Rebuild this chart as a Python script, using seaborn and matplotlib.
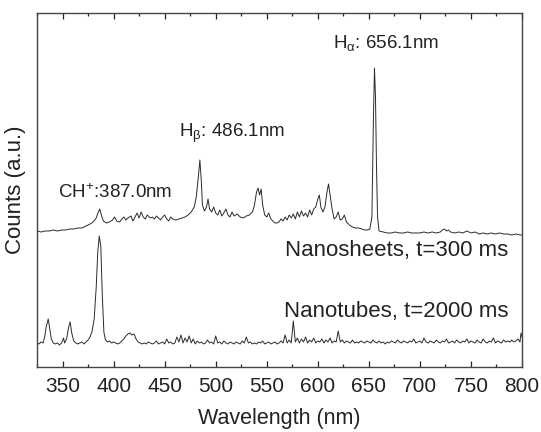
import matplotlib
matplotlib.use("Agg")
import matplotlib.pyplot as plt
import seaborn as sns
import pandas as pd
from matplotlib.ticker import MultipleLocator

# Nanosheets spectrum (t = 300 ms)
sheets_wl = [325, 329, 333, 337, 341, 345, 349, 353, 357, 361, 365, 369, 373, 377, 380, 383, 385, 386.5, 388, 390,
             393, 396, 399, 401, 403, 406, 408, 410, 412, 414, 417, 419, 421, 423, 425, 427, 429, 431, 433, 436,
             438, 440, 442, 444, 446, 448, 450, 452, 454, 456, 458, 461, 464, 467, 470, 473, 476, 479, 481, 483,
             484.5, 486, 487, 489, 491, 492.5, 494, 496, 498, 500, 502, 504, 506, 508, 510, 512, 514, 516, 518, 521,
             524, 527, 530, 533, 536, 538, 540, 541.5, 543, 544.5, 546, 548, 550, 552, 554, 556, 558, 560, 562, 564,
             566, 568, 570, 572, 574, 576, 578, 580, 582, 584, 586, 588, 590, 592, 594, 596, 598, 600, 601.5, 603,
             605, 607, 609, 610.5, 612, 614, 616, 618, 620, 622, 624, 626, 628, 630, 632, 634, 637, 640, 643, 646,
             649, 651, 653, 654.5, 655.5, 656.5, 657.5, 658.5, 660, 664, 668, 672, 676, 680, 684, 688, 692, 696,
             700, 704, 708, 712, 716, 720, 722, 724, 726, 728, 730, 734, 738, 742, 746, 750, 754, 758, 762, 766,
             770, 774, 778, 782, 786, 790, 794, 798, 800]
sheets_counts = [136, 135, 136, 136, 137, 136, 137, 137, 138, 138, 139, 139, 141, 143, 145, 149, 155, 158, 152, 146,
                 144, 145, 147, 150, 146, 145, 148, 150, 147, 149, 151, 146, 150, 154, 149, 155, 150, 148, 152, 149,
                 150, 148, 151, 149, 147, 150, 152, 148, 146, 150, 148, 147, 148, 149, 150, 152, 155, 160, 170, 190,
                 207, 185, 162, 156, 160, 168, 158, 155, 160, 154, 152, 157, 151, 154, 158, 152, 150, 155, 151, 153,
                 150, 149, 151, 152, 155, 162, 175, 179, 172, 178, 162, 152, 150, 154, 148, 146, 144, 144, 145, 148,
                 146, 150, 147, 152, 149, 153, 148, 155, 150, 156, 151, 154, 150, 157, 152, 158, 160, 168, 172, 160,
                 155, 160, 175, 183, 172, 158, 148, 150, 155, 147, 148, 152, 145, 143, 141, 140, 139, 139, 138, 137,
                 137, 138, 150, 250, 299, 270, 200, 150, 136, 135, 134, 134, 135, 134, 134, 135, 134, 134,
                 134, 135, 134, 135, 134, 135, 137, 138, 136, 137, 135, 134, 135, 134, 136, 134, 135, 133, 134, 133,
                 134, 133, 134, 133, 133, 132, 133, 132, 132]

# Nanotubes spectrum (t = 2000 ms)
tubes_wl = [325, 327, 329, 331, 332.5, 334, 336, 337.5, 339, 341, 343, 345, 347, 349, 351, 352, 354, 356, 357.5, 359,
            361, 363, 365, 367, 369, 371, 373, 375, 377, 379, 381, 383, 384.5, 386, 387.5, 389, 390.5, 392, 394, 396,
            398, 400, 402, 404, 406, 408, 410, 412, 414, 416, 418, 420, 422, 424, 426, 428, 430, 432, 434, 436,
            438, 440, 442, 444, 446, 448, 450, 452, 454, 456, 458, 460, 462, 464, 466, 468, 470, 472, 474, 476,
            478, 480, 482, 484, 486, 488, 490, 492, 494, 496, 498, 500, 502, 504, 506, 508, 510, 512, 514, 516,
            518, 520, 522, 524, 526, 528, 530, 532, 534, 536, 538, 540, 542, 544, 546, 548, 550, 552, 554, 556,
            558, 560, 562, 564, 566, 568, 570, 572, 574, 576, 578, 580, 582, 584, 586, 588, 590, 592, 594, 596,
            598, 600, 602, 604, 606, 608, 610, 612, 614, 616, 618, 620, 622, 624, 626, 628, 630, 632, 634, 636,
            638, 640, 642, 644, 646, 648, 650, 652, 654, 656, 658, 660, 662, 664, 666, 668, 670, 672, 674, 676,
            678, 680, 682, 684, 686, 688, 690, 692, 694, 696, 698, 700, 702, 704, 706, 708, 710, 712, 714, 716,
            718, 720, 722, 724, 726, 728, 730, 732, 734, 736, 738, 740, 742, 744, 746, 748, 750, 752, 754, 756,
            758, 760, 762, 764, 766, 768, 770, 772, 774, 776, 778, 780, 782, 784, 786, 788, 790, 792, 794, 796,
            798, 799, 800]
tubes_counts = [24, 23, 25, 24, 30, 40, 48, 38, 28, 24, 23, 24, 22, 24, 29, 24, 28, 40, 45, 34,
                26, 24, 23, 24, 25, 23, 25, 27, 30, 36, 48, 80, 115, 131, 120, 70, 35, 27, 25, 26,
                24, 25, 24, 23, 24, 26, 28, 31, 33, 34, 32, 33, 28, 25, 24, 23, 24, 23, 25, 24,
                23, 24, 26, 23, 24, 25, 23, 28, 24, 25, 23, 24, 30, 25, 32, 24, 29, 25, 31, 24,
                28, 23, 26, 24, 25, 23, 24, 27, 24, 25, 23, 31, 24, 25, 23, 26, 24, 23, 25, 24,
                23, 25, 24, 23, 26, 24, 30, 24, 25, 23, 24, 23, 25, 24, 26, 23, 24, 25, 23, 24,
                25, 23, 24, 26, 24, 32, 24, 27, 24, 46, 25, 29, 24, 28, 25, 30, 24, 27, 25, 29,
                24, 26, 25, 28, 24, 27, 25, 29, 24, 26, 25, 36, 25, 27, 24, 26, 25, 24, 27, 24,
                25, 24, 26, 25, 24, 26, 25, 24, 27, 25, 24, 26, 24, 25, 23, 25, 24, 26, 25, 24,
                27, 25, 24, 26, 25, 24, 26, 25, 28, 24, 25, 26, 24, 29, 25, 24, 26, 25, 24, 27,
                25, 24, 26, 25, 28, 24, 25, 26, 24, 27, 25, 24, 26, 25, 28, 24, 26, 25, 24, 27,
                25, 24, 28, 25, 24, 26, 25, 29, 24, 26, 25, 24, 27, 25, 26, 25, 27, 25, 26, 28,
                25, 34, 30]

sns.set_style("ticks")
plt.rcParams['font.family'] = ['Liberation Sans', 'DejaVu Sans']
plt.rcParams['mathtext.fontset'] = 'custom'
plt.rcParams['mathtext.rm'] = 'Liberation Sans'
plt.rcParams['mathtext.it'] = 'Liberation Sans:italic'
plt.rcParams['mathtext.default'] = 'regular'

sheets = pd.DataFrame({'wl': sheets_wl, 'counts': sheets_counts})
tubes = pd.DataFrame({'wl': tubes_wl, 'counts': tubes_counts})

fig = plt.figure(figsize=(5.41, 4.32), dpi=100)
ax = fig.add_axes([0.0684, 0.1505, 0.8965, 0.8194])

line_color = '#2b2b2b'
sns.lineplot(data=sheets, x='wl', y='counts', ax=ax, color=line_color, linewidth=0.7,
             estimator=None, sort=False)
sns.lineplot(data=tubes, x='wl', y='counts', ax=ax, color=line_color, linewidth=0.7,
             estimator=None, sort=False)

ax.set_xlim(325, 800)
ax.set_ylim(0, 354)
ax.xaxis.set_major_locator(MultipleLocator(50))
ax.xaxis.set_minor_locator(MultipleLocator(25))
ax.tick_params(axis='x', which='both', direction='in', top=True, bottom=True,
               labelsize=15, colors='#222222', pad=7)
ax.tick_params(axis='x', which='major', length=4.5, width=0.9)
ax.tick_params(axis='x', which='minor', length=2.5, width=0.9)
ax.set_yticks([])
for s in ax.spines.values():
    s.set_color('#444444')
    s.set_linewidth(1.0)

ax.set_xlabel("Wavelength (nm)", fontsize=15.5, color='#222222', labelpad=8.5)
ax.set_ylabel("Counts (a.u.)", fontsize=16, color='#222222', labelpad=8)

# peak labels
ax.text(615, 324, r"H$_{\alpha}$: 656.1nm", fontsize=13.5, va='center', ha='left', color='#222222')
ax.text(464, 234, r"H$_{\beta}$: 486.1nm", fontsize=13.5, va='center', ha='left', color='#222222')
ax.text(345.5, 174, r"CH$^{+}$:387.0nm", fontsize=13.5, va='center', ha='left', color='#222222')
ax.text(787, 116, "Nanosheets, t=300 ms", fontsize=16, va='center', ha='right', color='#222222')
ax.text(787, 55, "Nanotubes, t=2000 ms", fontsize=16, va='center', ha='right', color='#222222')

plt.savefig("out.png", dpi=100)
